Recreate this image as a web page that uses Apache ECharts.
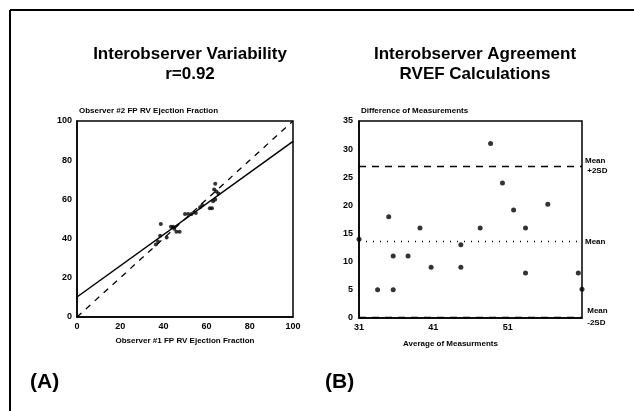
<!DOCTYPE html>
<html>
<head>
<meta charset="utf-8">
<script src="https://cdn.jsdelivr.net/npm/echarts@6/dist/echarts.min.js"></script>
<style>
html,body{margin:0;padding:0;background:#fff;}
#c{width:634px;height:411px;}
</style>
</head>
<body>
<div id="c"></div>
<script>
// Panel A: observer #1 vs observer #2 RV ejection fraction
const obs1 = [36.5, 37.5, 38.5, 38.8, 41.5, 43.5, 44.5, 45, 46, 47.5, 50, 51.5, 53, 55, 57, 58, 61.5, 62.5, 63, 64, 63.5, 64.5, 64, 65.5];
const obs2 = [37, 38.5, 41.5, 47.5, 40.5, 46, 46, 45, 43.5, 43.5, 52.5, 52.5, 52.5, 53, 56, 57, 55.5, 55.5, 59, 60, 65, 64, 68, 63];
const regX = [0, 100];
const regY = [10.2, 89.6];
const identX = [0, 100];
const identY = [0, 100];
const ticksA = [0, 20, 40, 60, 80, 100];

// Panel B: Bland-Altman
const avgMeas = [31, 33.5, 35, 35.6, 35.6, 37.6, 39.2, 40.7, 44.7, 44.7, 47.3, 48.7, 50.3, 51.8, 53.4, 53.4, 56.4, 60.5, 61];
const diffMeas = [14, 5, 18, 11, 5, 11, 16, 9, 13, 9, 16, 31, 24, 19.2, 16, 8, 20.2, 8, 5.1];
const xTicksB = [31, 41, 51];
const meanPlus2SD = 27;
const meanDiff = 13.6;
const meanMinus2SD = 0.2;

const chart = echarts.init(document.getElementById('c'));
const F = 'Liberation Sans, Arial, sans-serif';
const tickFont = {fontFamily: F, fontSize: 9, fontWeight: 'bold', color: '#000'};
const blackLine = {lineStyle: {color: '#000', width: 1.5}};

chart.setOption({
  animation: false,
  backgroundColor: '#fff',
  title: [
    {text: 'Interobserver Variability\nr=0.92', left: 185, top: 39, textAlign: 'center',
     textStyle: {fontFamily: F, fontSize: 17, fontWeight: 'bold', color: '#000', lineHeight: 20}},
    {text: 'Interobserver Agreement\nRVEF Calculations', left: 470, top: 39, textAlign: 'center',
     textStyle: {fontFamily: F, fontSize: 17, fontWeight: 'bold', color: '#000', lineHeight: 20}}
  ],
  graphic: [
    {type: 'line', shape: {x1: 10, y1: 10, x2: 10, y2: 411}, style: {stroke: '#000', lineWidth: 2}},
    {type: 'line', shape: {x1: 10, y1: 10, x2: 634, y2: 10}, style: {stroke: '#000', lineWidth: 2}},
    {type: 'text', left: 30, top: 372, style: {text: '(A)', font: 'bold 21px ' + F, fill: '#000'}},
    {type: 'text', left: 325, top: 372, style: {text: '(B)', font: 'bold 21px ' + F, fill: '#000'}}
  ],
  grid: [
    {left: 77, top: 121, width: 216, height: 196, show: true, borderColor: '#000', borderWidth: 1.5},
    {left: 359, top: 121, width: 223, height: 197, show: true, borderColor: '#000', borderWidth: 1.5}
  ],
  xAxis: [
    {gridIndex: 0, type: 'value', min: 0, max: 100, interval: 20,
     name: 'Observer #1 FP RV Ejection Fraction', nameLocation: 'middle', nameGap: 20,
     nameTextStyle: {fontFamily: F, fontSize: 8, fontWeight: 'bold', color: '#000'},
     axisLine: blackLine, axisTick: {show: false}, splitLine: {show: false},
     axisLabel: Object.assign({margin: 5}, tickFont)},
    {gridIndex: 1, type: 'value', min: 31, max: 61,
     name: 'Average of Measurments', nameLocation: 'middle', nameGap: 22,
     nameTextStyle: {fontFamily: F, fontSize: 8, fontWeight: 'bold', color: '#000', padding: [0, 40, 0, 0]},
     axisLine: blackLine, axisTick: {show: false}, splitLine: {show: false},
     axisLabel: Object.assign({margin: 5, customValues: xTicksB}, tickFont)}
  ],
  yAxis: [
    {gridIndex: 0, type: 'value', min: 0, max: 100, interval: 20,
     name: 'Observer #2 FP RV Ejection Fraction', nameLocation: 'end', nameGap: 6,
     nameTextStyle: {fontFamily: F, fontSize: 8, fontWeight: 'bold', color: '#000', align: 'left', padding: [0, 0, 0, 2]},
     axisLine: blackLine, axisTick: {show: false}, splitLine: {show: false},
     axisLabel: Object.assign({margin: 5}, tickFont)},
    {gridIndex: 1, type: 'value', min: 0, max: 35, interval: 5,
     name: 'Difference of Measurements', nameLocation: 'end', nameGap: 6,
     nameTextStyle: {fontFamily: F, fontSize: 8, fontWeight: 'bold', color: '#000', align: 'left', padding: [0, 0, 0, 2]},
     axisLine: blackLine, axisTick: {show: false}, splitLine: {show: false},
     axisLabel: Object.assign({margin: 6}, tickFont)}
  ],
  series: [
    {type: 'line', xAxisIndex: 0, yAxisIndex: 0, data: identX.map((x, i) => [x, identY[i]]),
     symbol: 'none', lineStyle: {color: '#000', width: 1.3, type: [6, 6]}, silent: true},
    {type: 'line', xAxisIndex: 0, yAxisIndex: 0, data: regX.map((x, i) => [x, regY[i]]),
     symbol: 'none', lineStyle: {color: '#000', width: 1.5}, silent: true},
    {type: 'scatter', xAxisIndex: 0, yAxisIndex: 0, data: obs1.map((x, i) => [x, obs2[i]]),
     symbolSize: 4, itemStyle: {color: '#000'}},
    {type: 'scatter', xAxisIndex: 1, yAxisIndex: 1, data: avgMeas.map((x, i) => [x, diffMeas[i]]),
     symbolSize: 5, itemStyle: {color: '#000'}, clip: false,
     markLine: {
       silent: true, symbol: 'none',
       label: {show: true, position: 'end', distance: 3, fontFamily: F, fontSize: 8, fontWeight: 'bold', color: '#000', lineHeight: 10, align: 'left'},
       data: [
         {yAxis: meanPlus2SD, label: {formatter: 'Mean\n +2SD'}, lineStyle: {color: '#000', width: 1.3, type: [7, 6]}},
         {yAxis: meanDiff, label: {formatter: 'Mean'}, lineStyle: {color: '#000', width: 1.3, type: [1, 6]}},
         {yAxis: meanMinus2SD, label: {formatter: ' Mean\n\n -2SD', lineHeight: 6}, lineStyle: {color: '#000', width: 1.3, type: [7, 6]}}
       ]
     }}
  ]
});
</script>
</body>
</html>
